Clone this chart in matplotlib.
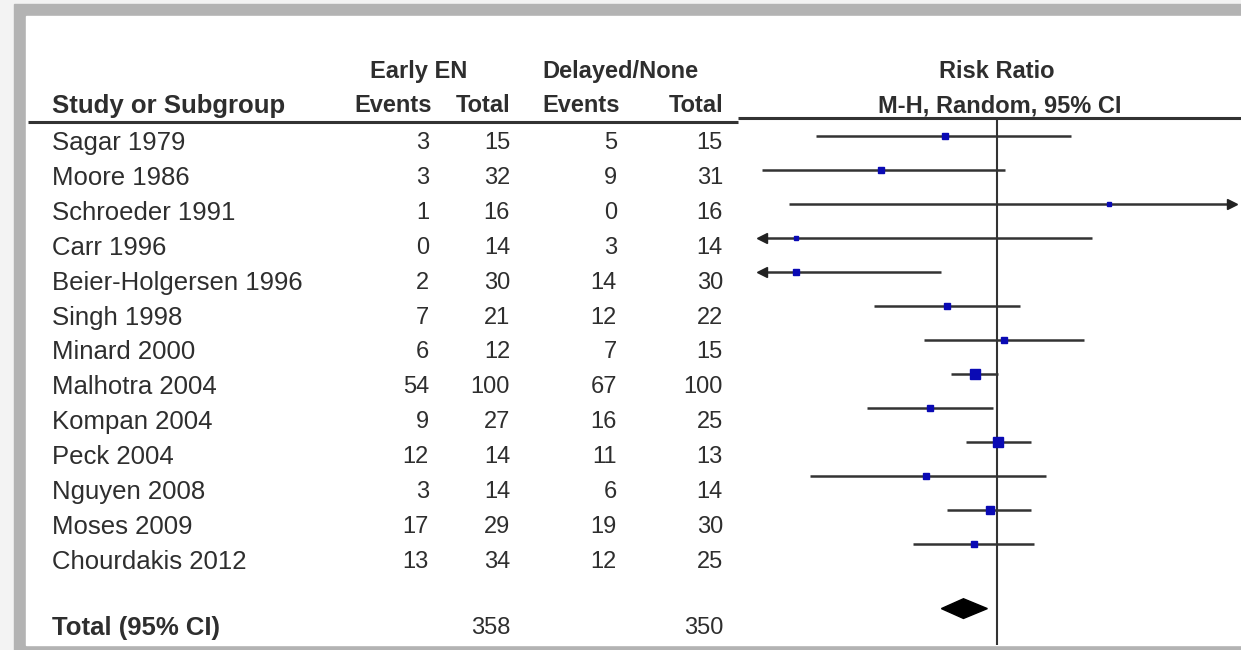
import matplotlib
matplotlib.use("Agg")
import matplotlib.pyplot as plt
from matplotlib.patches import Rectangle, Polygon

plt.rcParams['font.family'] = ['Liberation Sans', 'DejaVu Sans']

### Data
studies = ["Sagar 1979", "Moore 1986", "Schroeder 1991", "Carr 1996",
           "Beier-Holgersen 1996", "Singh 1998", "Minard 2000", "Malhotra 2004",
           "Kompan 2004", "Peck 2004", "Nguyen 2008", "Moses 2009",
           "Chourdakis 2012"]
early_events = [3, 3, 1, 0, 2, 7, 6, 54, 9, 12, 3, 17, 13]
early_total = [15, 32, 16, 14, 30, 21, 12, 100, 27, 14, 14, 29, 34]
delayed_events = [5, 9, 0, 3, 14, 12, 7, 67, 16, 11, 6, 19, 12]
delayed_total = [15, 31, 16, 14, 30, 22, 15, 100, 25, 13, 14, 30, 25]

rr = [0.60, 0.32, 3.00, 0.14, 0.14, 0.61, 1.07, 0.81, 0.52, 1.01, 0.50, 0.93, 0.80]
rr_lo = [0.17, 0.10, 0.13, 0.01, 0.04, 0.30, 0.49, 0.64, 0.28, 0.74, 0.16, 0.61, 0.44]
rr_hi = [2.07, 1.08, 68.4, 2.53, 0.58, 1.25, 2.34, 1.01, 0.96, 1.39, 1.61, 1.39, 1.44]
weights = [2.6, 2.7, 0.6, 0.8, 2.0, 5.4, 6.5, 24.8, 6.9, 18.5, 3.4, 13.1, 7.4]

total_early = 358
total_delayed = 350
pooled_rr, pooled_lo, pooled_hi = 0.72, 0.58, 0.91

### Layout (pixels of a 1241x650 picture)
W, H = 1241, 650
row0, step = 143.0, 34.9          # text rows
f_row0, f_step = 136.0, 34.0      # forest rows
total_row = len(studies) + 0.9
txt = '#2e2e2e'
fs = 18.5     # names / headers
fn = 17       # numbers

fig = plt.figure(figsize=(W / 100, H / 100), dpi=100)
fig.patch.set_facecolor('#f3f3f3')
fig.patches.append(Rectangle((14 / W, 0), (W - 14) / W, (H - 4) / H,
                             transform=fig.transFigure, color='#b3b3b3', zorder=-2))
fig.patches.append(Rectangle((26 / W, 5 / H), (W - 26) / W, (645 - 16) / H,
                             transform=fig.transFigure, color='white', zorder=-1))

# table axes: x in pixels, y in row units
ax = fig.add_axes([0, 0, 1, 1])
ax.set_zorder(1)
ax.set_xlim(0, W)
ax.set_ylim((H - row0) / step, -row0 / step)
ax.axis('off')

def prow(p):
    return (p - row0) / step

# headers
ax.text(419, prow(71), "Early EN", ha='center', va='center', fontsize=fn, fontweight='bold', color=txt)
ax.text(620, prow(71), "Delayed/None", ha='center', va='center', fontsize=fn, fontweight='bold', color=txt)
ax.text(997, prow(71), "Risk Ratio", ha='center', va='center', fontsize=fn, fontweight='bold', color=txt)
ax.text(52, prow(106), "Study or Subgroup", ha='left', va='center', fontsize=fs, fontweight='bold', color=txt)
for x, lab in [(432, "Events"), (510, "Total"), (620, "Events"), (723, "Total")]:
    ax.text(x, prow(106), lab, ha='right', va='center', fontsize=fn, fontweight='bold', color=txt)
ax.text(1000, prow(106), "M-H, Random, 95% CI", ha='center', va='center', fontsize=fn, fontweight='bold', color=txt)
ax.hlines(prow(122), 28, 738, color='#333333', lw=2.2)
ax.hlines(prow(118), 738, W, color='#333333', lw=2.2)

# study rows
for i, name in enumerate(studies):
    ax.text(52, i, name, ha='left', va='center', fontsize=fs, color=txt)
    ax.text(429, i, str(early_events[i]), ha='right', va='center', fontsize=fn, color=txt)
    ax.text(510, i, str(early_total[i]), ha='right', va='center', fontsize=fn, color=txt)
    ax.text(617, i, str(delayed_events[i]), ha='right', va='center', fontsize=fn, color=txt)
    ax.text(723, i, str(delayed_total[i]), ha='right', va='center', fontsize=fn, color=txt)

ax.text(52, total_row, "Total (95% CI)", ha='left', va='center', fontsize=fs, fontweight='bold', color=txt)
ax.text(510, total_row, str(total_early), ha='right', va='center', fontsize=fn, color=txt)
ax.text(723, total_row, str(total_delayed), ha='right', va='center', fontsize=fn, color=txt)

# forest axes: log risk ratio 0.1 .. 10
x0, x1 = 762, 1232
ax2 = fig.add_axes([x0 / W, 5 / H, (x1 - x0) / W, (645 - 118) / H])
ax2.set_zorder(2)
ax2.set_xscale('log')
xmin, xmax = 0.1, 10
ax2.set_xlim(xmin, xmax)
ax2.set_ylim((645 - f_row0) / f_step, (118 - f_row0) / f_step)
ax2.axis('off')
ax2.axvline(1, color='#333333', lw=1.5)

for i in range(len(studies)):
    lo = max(rr_lo[i], xmin)
    hi = min(rr_hi[i], xmax)
    ax2.plot([lo, hi], [i, i], color='#333333', lw=1.8, clip_on=False, solid_capstyle='butt')
    if rr_lo[i] < xmin:
        ax2.plot(xmin, i, marker='<', ms=7, color='#222222', clip_on=False)
    if rr_hi[i] > xmax:
        ax2.plot(xmax, i, marker='>', ms=7, color='#222222', clip_on=False)
    ax2.plot(rr[i], i, marker='s', ms=2.2 + weights[i] ** 0.5, color='#0a0ab4',
             mec='#0a0ab4', clip_on=False, zorder=3)

dh = 0.29
ax2.add_patch(Polygon([(pooled_lo, total_row), (pooled_rr, total_row - dh),
                       (pooled_hi, total_row), (pooled_rr, total_row + dh)],
                      closed=True, color='black', zorder=3))

fig.savefig('out.png', dpi=100, facecolor=fig.get_facecolor())
